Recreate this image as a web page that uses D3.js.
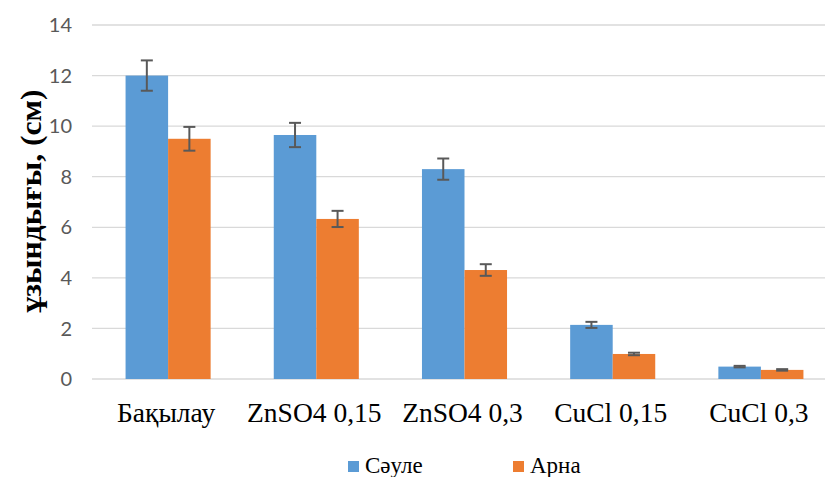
<!DOCTYPE html>
<html><head><meta charset="utf-8">
<script src="https://cdn.jsdelivr.net/npm/d3@7"></script>
<style>body{margin:0;background:#fff}svg{display:block}</style>
</head><body>
<svg id="c" width="825" height="477"></svg>
<script>
const categories = ["Бақылау","ZnSO4 0,15","ZnSO4 0,3","CuCl 0,15","CuCl 0,3"];
const seriesNames = ["Сәуле","Арна"];
const sauleValues = [12.0, 9.65, 8.3, 2.14, 0.49];
const sauleErrors = [0.6, 0.48, 0.42, 0.12, 0.03];
const arnaValues = [9.5, 6.33, 4.31, 0.99, 0.36];
const arnaErrors = [0.47, 0.32, 0.23, 0.05, 0.03];
const yTicks = [0,2,4,6,8,10,12,14];
const colors = ["#5B9BD5","#ED7D31"];

(function(){
const svg = d3.select("#c");
const pL = 94, pR = 835, pT = 25, pB = 379;
const x = d3.scaleBand().domain(categories).range([pL,pR]).paddingInner(0).paddingOuter(0);
const y = d3.scaleLinear().domain([0,14]).range([pB,pT]);
const barW = x.bandwidth()*0.287;

svg.append("g").selectAll("line").data(yTicks).join("line")
  .attr("x1",pL-2).attr("x2",825).attr("y1",d=>y(d)).attr("y2",d=>y(d))
  .attr("stroke","#D9D9D9").attr("stroke-width",1.3);

svg.append("g").selectAll("text").data(yTicks).join("text")
  .attr("x",72).attr("y",d=>y(d)).attr("dy","0.36em").attr("text-anchor","end")
  .attr("font-family","Lato, Liberation Sans, Arial, sans-serif").attr("font-size",20)
  .attr("fill","#595959").text(d=>d);

const series = [
  {name:seriesNames[0], vals:sauleValues, errs:sauleErrors, off:-1},
  {name:seriesNames[1], vals:arnaValues, errs:arnaErrors, off:0}
];
series.forEach((s,si)=>{
  const g = svg.append("g");
  const cx = (c)=>x(c)+x.bandwidth()/2 + s.off*barW;
  g.selectAll("rect").data(categories).join("rect")
    .attr("x",c=>cx(c)).attr("width",barW)
    .attr("y",(c,i)=>y(s.vals[i])).attr("height",(c,i)=>y(0)-y(s.vals[i]))
    .attr("fill",colors[si]);
  const eg = svg.append("g").attr("stroke","#595959").attr("stroke-width",2);
  categories.forEach((c,i)=>{
    const mx = cx(c)+barW/2;
    const y1 = y(s.vals[i]+s.errs[i]), y2 = y(s.vals[i]-s.errs[i]);
    eg.append("line").attr("x1",mx).attr("x2",mx).attr("y1",y1).attr("y2",y2);
    eg.append("line").attr("x1",mx-6).attr("x2",mx+6).attr("y1",y1).attr("y2",y1);
    eg.append("line").attr("x1",mx-6).attr("x2",mx+6).attr("y1",y2).attr("y2",y2);
  });
});

svg.append("g").selectAll("text").data(categories).join("text")
  .attr("x",c=>x(c)+x.bandwidth()/2 - 2).attr("y",422).attr("text-anchor","middle")
  .attr("font-family","Liberation Serif, Times New Roman, serif").attr("font-size",27.5)
  .attr("fill","#000").text(d=>d);

svg.append("text").attr("transform","translate(41,201) rotate(-90)")
  .attr("text-anchor","middle").attr("font-family","Liberation Serif, Times New Roman, serif")
  .attr("font-weight","bold").attr("font-size",30).attr("fill","#000")
  .attr("textLength",223).attr("lengthAdjust","spacingAndGlyphs").text("ұзындығы, (см)");

const legX = [348, 513];
const lg = svg.append("g");
seriesNames.forEach((n,i)=>{
  lg.append("rect").attr("x",legX[i]).attr("y",461).attr("width",11).attr("height",11).attr("fill",colors[i]);
  lg.append("text").attr("x",legX[i]+17).attr("y",473).attr("font-family","Liberation Serif, Times New Roman, serif")
    .attr("font-size",23).attr("fill","#000").text(n);
});
})();
</script>
</body></html>
